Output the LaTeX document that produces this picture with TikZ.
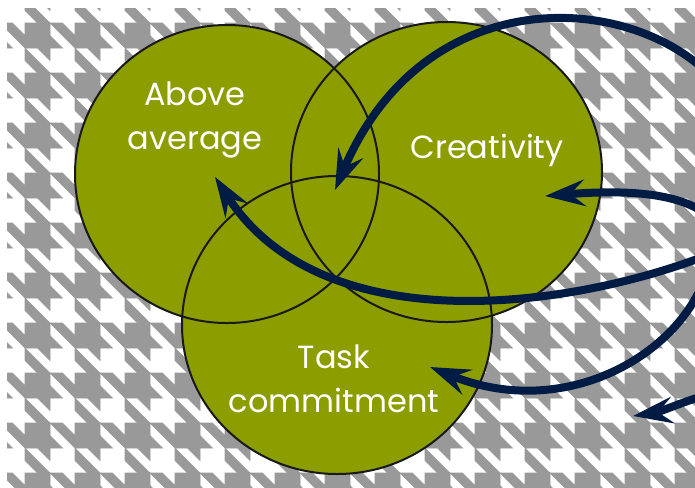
\documentclass[tikz,border=0pt]{standalone}
\usepackage{fontspec}
\setmainfont{Poppins}
\usetikzlibrary{arrows.meta}
\definecolor{vennfill}{RGB}{140,157,0}
\definecolor{navyarrow}{RGB}{0,28,68}
\definecolor{houndgray}{RGB}{153,153,153}
\begin{document}
\begin{tikzpicture}[x=0.75pt,y=0.75pt,yscale=-1,xscale=1,
  venn/.style={fill=vennfill},
  rim/.style={draw=black!90,line width=1.5pt},
  arr/.style={draw=navyarrow,line width=6pt,-{Stealth[length=30pt,width=20pt,inset=11pt]}},
  lbl/.style={text=white,align=center,font=\fontsize{24}{33}\selectfont}]
\useasboundingbox (0,0) rectangle (695,487);
\fill[white] (0,0) rectangle (695,487);
% houndstooth background
\begin{scope}
\clip[rounded corners=6pt] (7,8) rectangle (760,560);
\foreach \i in {-1,...,14}{
  \foreach \j in {-1,...,9}{
    \filldraw[houndgray,line width=0.4pt,shift={(50*\i,23+50*\j)}]
      (0,0) -- (12.5,0) -- (25,12.5) -- (25,0) -- (50,0) -- (50,37.5) -- (37.5,25) -- (25,25) -- cycle
      (0,12.5) -- (12.5,25) -- (0,25) -- cycle
      (25,25) -- (50,50) -- (37.5,50) -- (25,37.5) -- cycle;
  }
}
\end{scope}
% circles
\fill[venn] (227,174) ellipse (152 and 149);
\fill[venn] (446.5,172) ellipse (155.5 and 150);
\fill[venn] (337,325) ellipse (155 and 149);
\draw[rim] (227,174) ellipse (152 and 149);
\draw[rim] (446.5,172) ellipse (155.5 and 150);
\draw[rim] (337,325) ellipse (155 and 149);
% labels
\node[lbl] (above) at (195,120) {Above\\average};
\node[lbl] (creat) at (487,150) {Creativity};
\node[lbl] (task) at (334,379) {Task\\commitment};
% arrows
\coordinate (s1) at (700,66);
\coordinate (t1) at (335,190);
\coordinate (s2) at (700,210);
\coordinate (t2) at (545,196);
\coordinate (s3) at (700,258);
\coordinate (t3) at (215,177);
\coordinate (s4) at (702,285);
\coordinate (t4) at (430,367);
\coordinate (s5) at (700,397);
\coordinate (t5) at (633,416);
\draw[arr] (s1) .. controls (610,-10) and (420,-10) .. (t1);
\draw[arr] (s2) .. controls (670,192) and (620,190) .. (t2);
\draw[arr] (s3) .. controls (560,310) and (320,340) .. (t3);
\draw[arr] (s4) .. controls (670,360) and (560,420) .. (t4);
\draw[arr] (s5) .. controls (680,403) and (660,412) .. (t5);
\end{tikzpicture}
\end{document}
